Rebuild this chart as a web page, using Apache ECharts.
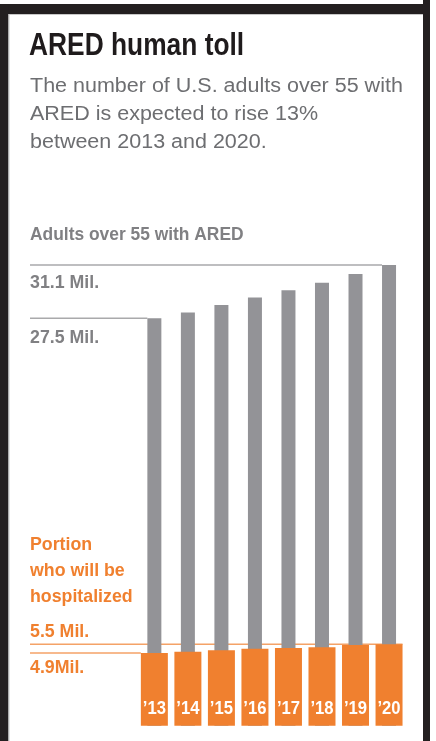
<!DOCTYPE html>
<html>
<head>
<meta charset="utf-8">
<script src="https://cdn.jsdelivr.net/npm/echarts@6/dist/echarts.min.js"></script>
<style>
html,body{margin:0;padding:0;background:#fff;}
#c{width:436px;height:741px;}
</style>
</head>
<body>
<div id="c"></div>
<script>
var years = ['\u201913','\u201914','\u201915','\u201916','\u201917','\u201918','\u201919','\u201920'];
var adultsWithARED = [27.5, 27.9, 28.4, 28.9, 29.4, 29.9, 30.5, 31.1];
var hospitalized = [4.9, 5.0, 5.1, 5.2, 5.25, 5.3, 5.45, 5.5];
var grayRefValues = [31.1, 27.5];
var grayRefLabels = ['31.1 Mil.', '27.5 Mil.'];
var orangeRefValues = [5.5, 4.9];
var orangeRefLabels = ['5.5 Mil.', '4.9Mil.'];
var titleText = 'ARED human toll';
var subtitleLines = ['The number of U.S. adults over 55 with', 'ARED is expected to rise 13%', 'between 2013 and 2020.'];
var sectionLabel = 'Adults over 55 with ARED';
var orangeLabelLines = ['Portion', 'who will be', 'hospitalized'];

var SANS = "'Liberation Sans',Arial,Helvetica,sans-serif";
var GRAY = '#939397';
var GRAYTXT = '#808083';
var ORANGE = '#F0802F';
var ORANGE_LINE = '#F4A267';
var LBL_FONT = 'bold 18.5px ' + SANS;
var LBL_SX = 0.96;

var chart = echarts.init(document.getElementById('c'), null, {renderer:'canvas'});
var option = {
  animation: false,
  backgroundColor: '#ffffff',
  grid: {left: 137.6, right: 30.2, top: 265, bottom: 15.3, containLabel: false},
  xAxis: [
    {type:'category', data: years, show:false, boundaryGap:true},
    {type:'category', data: years, show:false, boundaryGap:true}
  ],
  yAxis: {type:'value', min:0, max:31.1, show:false, splitLine:{show:false}},
  series: [
    {type:'bar', xAxisIndex:0, data: adultsWithARED, barWidth:14, itemStyle:{color:GRAY}, z:3, silent:true},
    {type:'bar', xAxisIndex:1, data: hospitalized, barWidth:27, itemStyle:{color:ORANGE}, z:4, silent:true}
  ]
};
chart.setOption(option);

function py(v){ return chart.convertToPixel({yAxisIndex:0}, v); }
function px(i){ return chart.convertToPixel({xAxisIndex:0}, i); }
function txt(x, y, text, font, fill, sx, align){
  return {type:'text', x:x, y:y, scaleX:sx, style:{text:text, font:font, fill:fill, verticalAlign:'middle', align:align||'left'}, z:10};
}

var els = [];
// frame
els.push({type:'rect', shape:{x:0,y:4,width:430,height:10}, style:{fill:'#231f20'}, z:10});
els.push({type:'rect', shape:{x:0,y:4,width:8.5,height:737}, style:{fill:'#231f20'}, z:10});
els.push({type:'rect', shape:{x:423,y:0,width:7,height:741}, style:{fill:'#231f20'}, z:10});
els.push({type:'line', shape:{x1:9,y1:14.5,x2:423,y2:14.5}, style:{stroke:'#c8c8c8', lineWidth:1}, z:10});
els.push({type:'line', shape:{x1:9,y1:14,x2:9,y2:741}, style:{stroke:'#c8c8c8', lineWidth:1}, z:10});

// title & subtitle
els.push(txt(29, 46, titleText, 'bold 31px ' + SANS, '#1f1b1c', 0.85));
for (var i=0;i<subtitleLines.length;i++){
  els.push(txt(30, 86+28*i, subtitleLines[i], '20px ' + SANS, '#6d6e71', 1.075));
}
els.push(txt(30, 235, sectionLabel, LBL_FONT, GRAYTXT, 0.94));

// gray reference lines
var g0 = py(grayRefValues[0]), g1 = py(grayRefValues[1]);
els.push({type:'line', shape:{x1:30,y1:g0,x2:px(7)-7,y2:g0}, style:{stroke:'#a9a9ab', lineWidth:1.5}, z:1});
els.push({type:'line', shape:{x1:30,y1:g1,x2:px(0)-7,y2:g1}, style:{stroke:'#a9a9ab', lineWidth:1.5}, z:1});
els.push(txt(30, g0+18, grayRefLabels[0], LBL_FONT, GRAYTXT, LBL_SX));
els.push(txt(30, g1+20, grayRefLabels[1], LBL_FONT, GRAYTXT, LBL_SX));

// orange
for (var j=0;j<orangeLabelLines.length;j++){
  els.push(txt(30, 545+26*j, orangeLabelLines[j], LBL_FONT, ORANGE, LBL_SX));
}
var o0 = py(orangeRefValues[0]), o1 = py(orangeRefValues[1]);
els.push({type:'line', shape:{x1:30,y1:o0,x2:px(7)+13.5,y2:o0}, style:{stroke:ORANGE_LINE, lineWidth:1.5}, z:1});
els.push({type:'line', shape:{x1:30,y1:o1,x2:px(0)-13.5,y2:o1}, style:{stroke:ORANGE_LINE, lineWidth:1.5}, z:1});
els.push(txt(30, o0-12, orangeRefLabels[0], LBL_FONT, ORANGE, LBL_SX));
els.push(txt(30, o1+15, orangeRefLabels[1], LBL_FONT, ORANGE, LBL_SX));

// year labels inside orange bars, placed through the category axis
var base = py(0);
for (var k=0;k<years.length;k++){
  var cx = px(k);
  els.push({type:'text', x:cx, y:base-17, scaleX:0.9,
    style:{text:years[k], font:LBL_FONT, fill:'#ffffff', align:'center', verticalAlign:'middle'}, z:20});
}

chart.setOption({graphic:{elements:els}});
</script>
</body>
</html>
